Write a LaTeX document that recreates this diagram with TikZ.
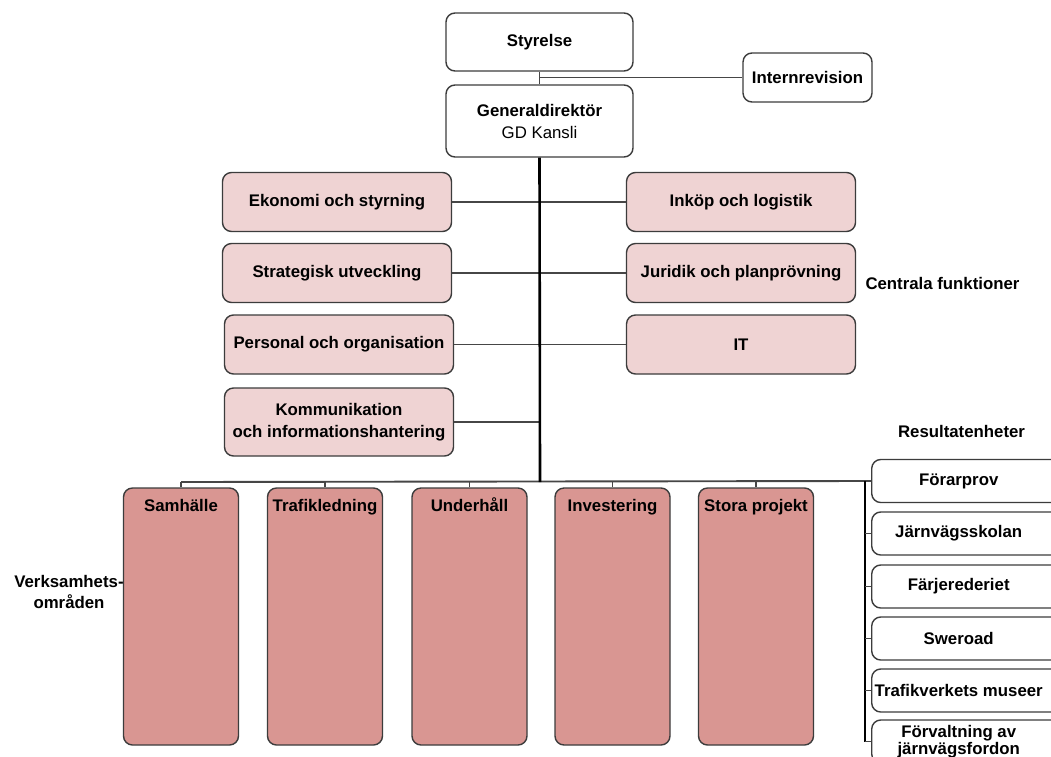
\documentclass[tikz,border=0pt]{standalone}
\usepackage{fontspec}
\setmainfont{Liberation Sans}
\definecolor{lightpink}{RGB}{239,211,211}
\definecolor{darkpink}{RGB}{217,150,146}
\definecolor{edgegray}{RGB}{60,60,60}
\definecolor{linegray}{RGB}{70,70,70}
\tikzset{
  boxfont/.style={font=\fontsize{16.8}{22}\selectfont\bfseries},
  box/.style={draw=edgegray, line width=1.4pt, rounded corners=9pt, align=center, inner sep=0pt, boxfont},
  wbox/.style={box, fill=white},
  lbox/.style={box, fill=lightpink, minimum width=229, minimum height=59},
  dbox/.style={box, fill=darkpink, minimum width=115, minimum height=257},
  rbox/.style={box, fill=white, minimum width=189, minimum height=43, anchor=west},
  conn/.style={draw=linegray, line width=1.3pt},
  mainline/.style={draw=black, line width=2.6pt},
  busline/.style={draw=linegray, line width=1.9pt},
  plain/.style={boxfont, align=center, inner sep=0pt},
  toplabel/.style={anchor=north, yshift=-11pt, boxfont, inner sep=0pt, text height=12.5pt, text depth=4pt}
}
\begin{document}
\begin{tikzpicture}[x=1pt,y=-1pt]
\clip (0,0) rectangle (1051,756);
\fill[white] (0,0) rectangle (1051,756);

% top
\node[wbox, minimum width=187, minimum height=58] (sty) at (539.5,42) {Styrelse};
\node[wbox, minimum width=187, minimum height=72] (gd) at (539.5,121) {Generaldirektör\\{\mdseries GD Kansli}};
\node[wbox, minimum width=129, minimum height=49] (int) at (807.5,77.5) {Internrevision};
\draw[conn] (sty.south) -- (gd.north);
\draw[conn] (int.west) -- (int.west -| sty.south);

% central functions
\node[lbox] (eko) at (337,202) {Ekonomi och styrning};
\node[lbox] (str) at (337,273) {Strategisk utveckling};
\node[lbox] (per) at (339,344.5) {Personal och organisation};
\node[lbox, minimum height=68] (kom) at (339,422) {Kommunikation\\och informationshantering};
\node[lbox] (ink) at (741,202) {Inköp och logistik};
\node[lbox] (jur) at (741,273) {Juridik och planprövning};
\node[lbox] (it) at (741,344.5) {IT};

\coordinate (busc) at (540,482);
\draw[conn] (eko.east) -- (ink.west);
\draw[conn] (str.east) -- (jur.west);
\draw[conn] (per.east) -- (it.west);
\draw[conn] (kom.east) -- (kom.east -| busc);

\node[plain] (cen) at (942.5,283) {Centrala funktioner};
\node[plain] (res) at (961.5,431) {Resultatenheter};
\node[plain, font=\fontsize{16.8}{21}\selectfont\bfseries] (verk) at (69,592) {Verksamhets-\\områden};

% business areas
\node[dbox, label={[toplabel]north:Samhälle}] (sam) at (181,616.5) {};
\node[dbox, label={[toplabel]north:Trafikledning}] (tra) at (325,616.5) {};
\node[dbox, label={[toplabel]north:Underhåll}] (und) at (469.5,616.5) {};
\node[dbox, label={[toplabel]north:Investering}] (inv) at (612.5,616.5) {};
\node[dbox, label={[toplabel]north:Stora projekt}] (sto) at (756,616.5) {};

% result units
\node[rbox] (r1) at (871,481) {\hspace*{-15pt}Förarprov};
\node[rbox] (r2) at (871,533.5) {\hspace*{-15pt}Järnvägsskolan};
\node[rbox] (r3) at (871,586.5) {\hspace*{-15pt}Färjerederiet};
\node[rbox] (r4) at (871,638.5) {\hspace*{-15pt}Sweroad};
\node[rbox] (r5) at (871,690.5) {\hspace*{-15pt}Trafikverkets museer};
\node[rbox, font=\fontsize{16.8}{16.5}\selectfont\bfseries] (r6) at (871,741.5) {\hspace*{-15pt}Förvaltning av\\\hspace*{-15pt}järnvägsfordon};
\coordinate (rb) at (865,481);

% connectors
\draw[busline] (sam.north |- busc) -- (rb) -- (r1.west);
\foreach \b in {sam,tra,und,inv,sto} \draw[conn] (\b.north) -- (\b.north |- busc);
\draw[busline, draw=black] (rb) -- (r6.west -| rb);
\foreach \r in {r2,r3,r4,r5,r6} \draw[conn] (\r.west) -- (\r.west -| rb);
\draw[mainline] (gd.south) -- (busc);
\end{tikzpicture}
\end{document}
